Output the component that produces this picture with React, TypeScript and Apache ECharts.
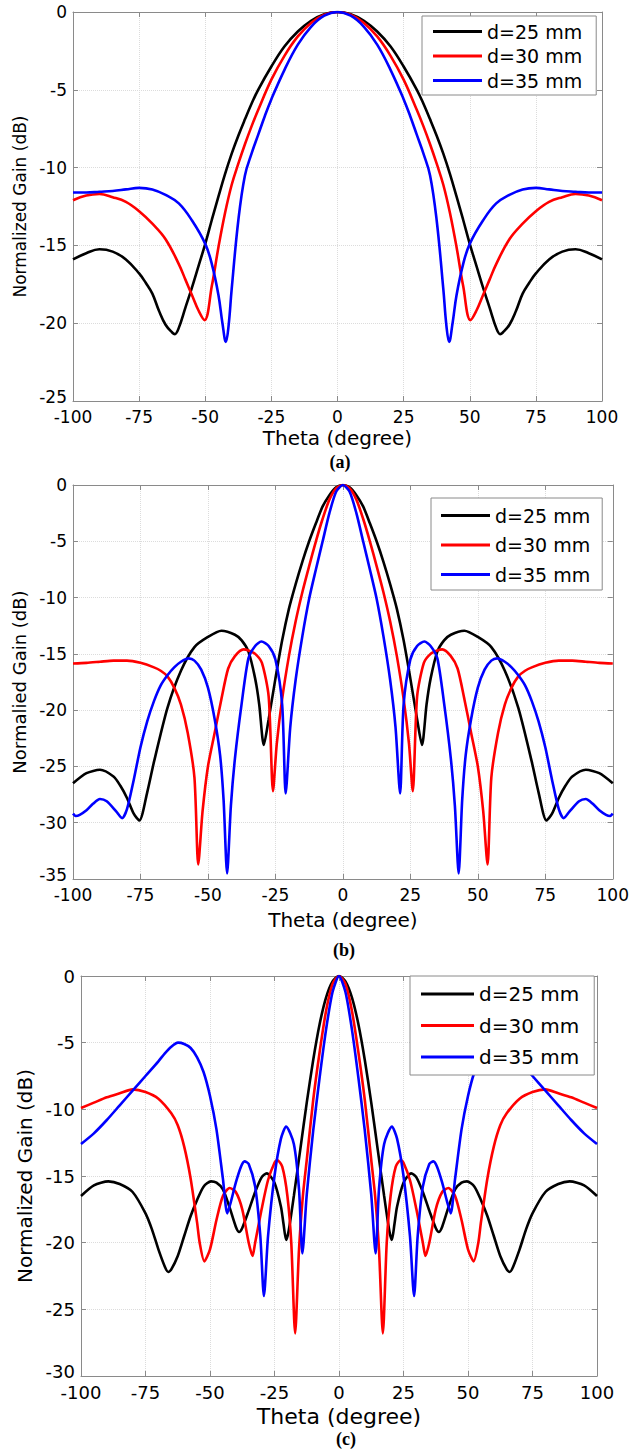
import React, { useEffect, useRef } from "react";
import * as echarts from "echarts";

type Pt = [number, number];

const seriesNames = ["d=25 mm", "d=30 mm", "d=35 mm"];
const lineColors = ["#000000", "#ff0000", "#0000ff"];
const panelCaptions = ["(a)", "(b)", "(c)"];
const yTitles = ["Normalized Gain (dB)", "Normalied Gain (dB)", "Normalized Gain (dB)"];
const xTitle = "Theta (degree)";
const yMins = [-25, -35, -30];
const yMax = 0;
const yStep = 5;
const xMin = -100;
const xMax = 100;
const xStep = 25;

// ---------- Panel (a) ----------
const gainA25: Pt[] = [
  [-100, -15.9], [-95, -15.5], [-90, -15.25], [-85, -15.4], [-80, -15.9], [-75, -16.8], [-72.5, -17.4],
  [-70, -18.1], [-67.5, -19.2], [-65, -20.1], [-62.5, -20.6], [-61.5, -20.7], [-60, -20.3], [-57.5, -19],
  [-55, -17.7], [-52.5, -16.3], [-50, -14.9], [-47.5, -13.35], [-45, -11.85], [-42.5, -10.4], [-40, -9.1],
  [-37.5, -7.95], [-35, -6.9], [-32.5, -5.9], [-30, -5], [-25, -3.5], [-20, -2.2], [-15, -1.25],
  [-10, -0.56], [-5, -0.14], [0, 0], [5, -0.14], [10, -0.56], [15, -1.25], [20, -2.2], [25, -3.5],
  [30, -5], [32.5, -5.9], [35, -6.9], [37.5, -7.95], [40, -9.1], [42.5, -10.4], [45, -11.85],
  [47.5, -13.35], [50, -14.9], [52.5, -16.3], [55, -17.7], [57.5, -19], [60, -20.3], [61.5, -20.7],
  [62.5, -20.6], [65, -20.1], [67.5, -19.2], [70, -18.1], [72.5, -17.4], [75, -16.8], [80, -15.9],
  [85, -15.4], [90, -15.25], [95, -15.5], [100, -15.9],
];
const gainA30: Pt[] = [
  [-100, -12.1], [-95, -11.8], [-90, -11.7], [-85, -11.9], [-80, -12.2], [-75, -12.8], [-70, -13.6],
  [-65, -14.6], [-60, -16.2], [-57.5, -17.2], [-55, -18.2], [-52.5, -19.2], [-50.3, -19.8], [-47.5, -17.6],
  [-45, -15.1], [-42.5, -12.9], [-40, -11.1], [-37.5, -9.75], [-35, -8.5], [-32.5, -7.35], [-30, -6.3],
  [-25, -4.35], [-20, -2.8], [-15, -1.57], [-10, -0.7], [-5, -0.17], [0, 0], [5, -0.17], [10, -0.7],
  [15, -1.57], [20, -2.8], [25, -4.35], [30, -6.3], [32.5, -7.35], [35, -8.5], [37.5, -9.75], [40, -11.1],
  [42.5, -12.9], [45, -15.1], [47.5, -17.6], [50.3, -19.8], [52.5, -19.2], [55, -18.2], [57.5, -17.2],
  [60, -16.2], [65, -14.6], [70, -13.6], [75, -12.8], [80, -12.2], [85, -11.9], [90, -11.7], [95, -11.8],
  [100, -12.1],
];
const gainA35: Pt[] = [
  [-100, -11.6], [-95, -11.6], [-90, -11.55], [-85, -11.5], [-80, -11.4], [-75, -11.3], [-70, -11.4],
  [-65, -11.75], [-60, -12.3], [-55, -13.4], [-50, -14.9], [-47.5, -16.2], [-45, -18.2], [-43.5, -20],
  [-42.2, -21.2], [-41.2, -20.2], [-40, -17.8], [-37.5, -13.4], [-35, -10.5], [-32.5, -9.1], [-30, -7.9],
  [-27.5, -6.7], [-25, -5.6], [-20, -3.7], [-15, -2.1], [-10, -0.95], [-5, -0.24], [0, 0], [5, -0.24],
  [10, -0.95], [15, -2.1], [20, -3.7], [25, -5.6], [27.5, -6.7], [30, -7.9], [32.5, -9.1], [35, -10.5],
  [37.5, -13.4], [40, -17.8], [41.2, -20.2], [42.2, -21.2], [43.5, -20], [45, -18.2], [47.5, -16.2],
  [50, -14.9], [55, -13.4], [60, -12.3], [65, -11.75], [70, -11.4], [75, -11.3], [80, -11.4], [85, -11.5],
  [90, -11.55], [95, -11.6], [100, -11.6],
];

// ---------- Panel (b) ----------
const gainB25: Pt[] = [
  [-100, -26.5], [-95, -25.6], [-90, -25.3], [-85, -25.9], [-82.5, -26.7], [-80, -27.8], [-77.5, -29.2],
  [-75.4, -29.8], [-72.5, -27.3], [-70, -24.6], [-65, -19.8], [-60, -16.5], [-55, -14.4], [-50, -13.5],
  [-45, -12.95], [-40, -13.3], [-37.5, -13.8], [-35, -14.8], [-32.5, -17.2], [-31, -19.5], [-29.3, -23.1],
  [-27.5, -20.8], [-25, -17.2], [-22.5, -13.8], [-20, -11], [-17.5, -8.8], [-15, -6.8], [-12.5, -5],
  [-10, -3.4], [-7.5, -1.9], [-5, -0.9], [-2.5, -0.2], [0, 0], [2.5, -0.2], [5, -0.9], [7.5, -1.9],
  [10, -3.4], [12.5, -5], [15, -6.8], [17.5, -8.8], [20, -11], [22.5, -13.8], [25, -17.2], [27.5, -20.8],
  [29.3, -23.1], [31, -19.5], [32.5, -17.2], [35, -14.8], [37.5, -13.8], [40, -13.3], [45, -12.95],
  [50, -13.5], [55, -14.4], [60, -16.5], [65, -19.8], [70, -24.6], [72.5, -27.3], [75.4, -29.8],
  [77.5, -29.2], [80, -27.8], [82.5, -26.7], [85, -25.9], [90, -25.3], [95, -25.6], [100, -26.5],
];
const gainB30: Pt[] = [
  [-100, -15.85], [-95, -15.8], [-90, -15.7], [-85, -15.6], [-80, -15.6], [-75, -15.8], [-70, -16.2],
  [-67.5, -16.5], [-65, -17], [-62.5, -18], [-60, -19.5], [-57.5, -22], [-55, -26], [-53.6, -33.7],
  [-52, -29], [-50, -25], [-47.5, -22], [-45, -19], [-42.5, -16.3], [-40, -15.2], [-36.8, -14.6],
  [-35, -14.7], [-32.5, -15], [-30, -15.8], [-27.5, -18.8], [-25.9, -27.2], [-24.5, -23], [-22.5, -19],
  [-20, -15.2], [-17.5, -12.1], [-15, -9.5], [-12.5, -7.2], [-10, -5], [-7.5, -3], [-5, -1.3],
  [-2.5, -0.3], [0, 0], [2.5, -0.3], [5, -1.3], [7.5, -3], [10, -5], [12.5, -7.2], [15, -9.5],
  [17.5, -12.1], [20, -15.2], [22.5, -19], [24.5, -23], [25.9, -27.2], [27.5, -18.8], [30, -15.8],
  [32.5, -15], [35, -14.7], [36.8, -14.6], [40, -15.2], [42.5, -16.3], [45, -19], [47.5, -22], [50, -25],
  [52, -29], [53.6, -33.7], [55, -26], [57.5, -22], [60, -19.5], [62.5, -18], [65, -17], [67.5, -16.5],
  [70, -16.2], [75, -15.8], [80, -15.6], [85, -15.6], [90, -15.7], [95, -15.8], [100, -15.85],
];
const gainB35: Pt[] = [
  [-100, -29.2], [-99, -29.4], [-97.5, -29.3], [-95, -28.9], [-92.5, -28.3], [-90, -27.9], [-87.5, -28.1],
  [-84, -29], [-81.8, -29.6], [-80, -28.8], [-77.5, -26.2], [-75, -23.3], [-72.5, -21], [-70, -19.2],
  [-67.5, -17.8], [-65, -16.9], [-62.5, -16.2], [-60, -15.7], [-57.2, -15.4], [-55, -15.6], [-52.5, -16.4],
  [-50, -18], [-47.5, -20.8], [-45.5, -24], [-44.2, -28], [-42.9, -34.5], [-41.5, -28.5], [-40, -24.3],
  [-37.5, -19.4], [-35, -15.4], [-32.5, -14.3], [-30.2, -13.9], [-27.5, -14.3], [-25, -15.5],
  [-22.5, -19.5], [-21.2, -27.4], [-19.5, -21.5], [-17.5, -17.3], [-15, -13.4], [-12.5, -10.1],
  [-10, -7.5], [-7.5, -5], [-5, -2.5], [-2.5, -0.6], [0, 0], [2.5, -0.6], [5, -2.5], [7.5, -5],
  [10, -7.5], [12.5, -10.1], [15, -13.4], [17.5, -17.3], [19.5, -21.5], [21.2, -27.4], [22.5, -19.5],
  [25, -15.5], [27.5, -14.3], [30.2, -13.9], [32.5, -14.3], [35, -15.4], [37.5, -19.4], [40, -24.3],
  [41.5, -28.5], [42.9, -34.5], [44.2, -28], [45.5, -24], [47.5, -20.8], [50, -18], [52.5, -16.4],
  [55, -15.6], [57.2, -15.4], [60, -15.7], [62.5, -16.2], [65, -16.9], [67.5, -17.8], [70, -19.2],
  [72.5, -21], [75, -23.3], [77.5, -26.2], [80, -28.8], [81.8, -29.6], [84, -29], [87.5, -28.1],
  [90, -27.9], [92.5, -28.3], [95, -28.9], [97.5, -29.3], [99, -29.4], [100, -29.2],
];

// ---------- Panel (c) ----------
const gainC25: Pt[] = [
  [-100, -16.5], [-95, -15.7], [-89.4, -15.4], [-85, -15.6], [-80, -16.2], [-75, -17.8], [-72.5, -19],
  [-70, -20.5], [-67.5, -21.8], [-66.2, -22.2], [-65, -22], [-62.5, -21], [-60, -19.5], [-57.5, -18],
  [-55, -16.8], [-52.5, -15.8], [-49.6, -15.4], [-47.5, -15.5], [-45, -16], [-42.5, -17.3], [-40, -18.8],
  [-38.7, -19.2], [-37.5, -18.9], [-35, -17.6], [-32.5, -16.2], [-30, -15.1], [-28, -14.8], [-25, -15.5],
  [-22.5, -17.3], [-21.5, -18.6], [-20.5, -19.8], [-19.5, -19.1], [-17.5, -16.5], [-15, -13], [-12.5, -9.5],
  [-10, -6.3], [-7.5, -3.6], [-5, -1.6], [-2.5, -0.4], [0, 0], [2.5, -0.4], [5, -1.6], [7.5, -3.6],
  [10, -6.3], [12.5, -9.5], [15, -13], [17.5, -16.5], [19.5, -19.1], [20.5, -19.8], [21.5, -18.6],
  [22.5, -17.3], [25, -15.5], [28, -14.8], [30, -15.1], [32.5, -16.2], [35, -17.6], [37.5, -18.9],
  [38.7, -19.2], [40, -18.8], [42.5, -17.3], [45, -16], [47.5, -15.5], [49.6, -15.4], [52.5, -15.8],
  [55, -16.8], [57.5, -18], [60, -19.5], [62.5, -21], [65, -22], [66.2, -22.2], [67.5, -21.8], [70, -20.5],
  [72.5, -19], [75, -17.8], [80, -16.2], [85, -15.6], [89.4, -15.4], [95, -15.7], [100, -16.5],
];
const gainC30: Pt[] = [
  [-100, -9.9], [-95, -9.5], [-90, -9.1], [-85, -8.8], [-80, -8.5], [-75, -8.7], [-70, -9.2],
  [-65, -10.3], [-62.5, -11.2], [-60, -12.8], [-57.5, -15.2], [-55, -18.5], [-54, -20], [-52.2, -21.4],
  [-50, -20.5], [-47.5, -18.3], [-45, -16.5], [-42.4, -15.9], [-40, -16.2], [-37.5, -17.5], [-35, -20],
  [-33.5, -21], [-32.5, -20], [-30, -17.5], [-27.5, -15.3], [-25, -14], [-24, -13.8], [-22, -14.3],
  [-20, -16.5], [-18.5, -20], [-17, -26.8], [-15.5, -20.5], [-14, -16.5], [-12.5, -13.8], [-10, -9.3],
  [-7.5, -5.7], [-5, -2.6], [-2.5, -0.6], [0, 0], [2.5, -0.6], [5, -2.6], [7.5, -5.7], [10, -9.3],
  [12.5, -13.8], [14, -16.5], [15.5, -20.5], [17, -26.8], [18.5, -20], [20, -16.5], [22, -14.3],
  [24, -13.8], [25, -14], [27.5, -15.3], [30, -17.5], [32.5, -20], [33.5, -21], [35, -20], [37.5, -17.5],
  [40, -16.2], [42.4, -15.9], [45, -16.5], [47.5, -18.3], [50, -20.5], [52.2, -21.4], [54, -20],
  [55, -18.5], [57.5, -15.2], [60, -12.8], [62.5, -11.2], [65, -10.3], [70, -9.2], [75, -8.7],
  [80, -8.5], [85, -8.8], [90, -9.1], [95, -9.5], [100, -9.9],
];
const gainC35: Pt[] = [
  [-100, -12.6], [-95, -11.8], [-90, -10.8], [-85, -9.7], [-80, -8.6], [-75, -7.5], [-70, -6.4],
  [-67.5, -5.8], [-65, -5.3], [-62.4, -5], [-60, -5.1], [-57.5, -5.4], [-55, -6.1], [-52.5, -7.2],
  [-50, -9], [-47.5, -11.5], [-45, -15.2], [-43.3, -17.8], [-42, -17], [-40, -15.5], [-38, -14.3],
  [-36.6, -13.9], [-35, -14.1], [-32.5, -15.8], [-30.5, -19.5], [-29.1, -24], [-27.5, -19.5], [-25, -15],
  [-22.5, -12.2], [-20.5, -11.3], [-17.5, -12.6], [-15.5, -16], [-14.2, -20.8], [-12.5, -16.4],
  [-10, -11.6], [-7.5, -7.6], [-5, -4], [-2.5, -1.2], [0, 0], [2.5, -1.2], [5, -4], [7.5, -7.6],
  [10, -11.6], [12.5, -16.4], [14.2, -20.8], [15.5, -16], [17.5, -12.6], [20.5, -11.3],
  [22.5, -12.2], [25, -15], [27.5, -19.5], [29.1, -24], [30.5, -19.5], [32.5, -15.8], [35, -14.1],
  [36.6, -13.9], [38, -14.3], [40, -15.5], [42, -17], [43.3, -17.8], [45, -15.2], [47.5, -11.5], [50, -9],
  [52.5, -7.2], [55, -6.1], [57.5, -5.4], [60, -5.1], [62.4, -5], [65, -5.3], [67.5, -5.8], [70, -6.4],
  [75, -7.5], [80, -8.6], [85, -9.7], [90, -10.8], [95, -11.8], [100, -12.6],
];

const panelData: Pt[][][] = [
  [gainA25, gainA30, gainA35],
  [gainB25, gainB30, gainB35],
  [gainC25, gainC30, gainC35],
];

// ---------- layout / style (not data) ----------
const W = 632;
const H = 1450;
const FONT = "DejaVu Sans";
const AXIS_GRAY = "#8a8a8a";
const grids = [
  { left: 73, top: 12, width: 529, height: 389 },
  { left: 73, top: 485, width: 541, height: 394 },
  { left: 81, top: 976, width: 516, height: 400 },
];
const tickFont = [17, 17, 18];
const xNameFont = [20, 20, 22];
const yNameFont = [17, 18, 20];
const xNameGap = [27, 31, 29];
const yNameGap = [44, 44, 46];
const legendBoxes = [
  { left: 422, top: 16, padding: [6, 14, 5, 11], gap: 5.5, itemWidth: 49, font: 19 },
  { left: 431, top: 498, padding: [8, 12, 6, 10], gap: 10.5, itemWidth: 49, font: 19 },
  { left: 410, top: 976, padding: [8, 15, 8, 11], gap: 11.5, itemWidth: 53, font: 20 },
];
const captionPos: [number, number][] = [[340, 462], [344, 950], [346, 1439]];
const smoothness = [0.4, 0.25, 0.25];

function buildOption() {
  const xAxes: any[] = [];
  const yAxes: any[] = [];
  const series: any[] = [];
  const legends: any[] = [];
  const graphics: any[] = [];

  for (let i = 0; i < 3; i++) {
    const yMin = yMins[i];
    const fs = tickFont[i];
    xAxes.push({
      type: "value",
      gridIndex: i,
      position: "bottom",
      min: xMin,
      max: xMax,
      interval: xStep,
      name: xTitle,
      nameLocation: "middle",
      nameGap: xNameGap[i],
      nameTextStyle: { fontFamily: FONT, fontSize: xNameFont[i], color: "#000" },
      axisLine: { show: true, onZero: false, lineStyle: { color: AXIS_GRAY, width: 1 } },
      axisTick: { show: true, inside: true, length: 5, lineStyle: { color: AXIS_GRAY } },
      axisLabel: { fontFamily: FONT, fontSize: fs, color: "#000", margin: 7 },
      splitLine: { show: true, lineStyle: { color: "#dcdcdc", type: "dotted", width: 1 } },
    });
    yAxes.push({
      type: "value",
      gridIndex: i,
      position: "left",
      min: yMin,
      max: yMax,
      interval: yStep,
      name: yTitles[i],
      nameLocation: "middle",
      nameGap: yNameGap[i],
      nameTextStyle: { fontFamily: FONT, fontSize: yNameFont[i], color: "#000" },
      axisLine: { show: true, onZero: false, lineStyle: { color: AXIS_GRAY, width: 1 } },
      axisTick: { show: true, inside: true, length: 5, lineStyle: { color: AXIS_GRAY } },
      axisLabel: {
        fontFamily: FONT,
        fontSize: fs,
        color: "#000",
        margin: 6,
        formatter: (v: number) => (v === yMin ? `{low|${v}}` : `${v}`),
        rich: {
          low: { fontFamily: FONT, fontSize: fs, color: "#000", padding: [0, 0, 9, 0] },
        },
      },
      splitLine: { show: true, lineStyle: { color: "#dcdcdc", type: "dotted", width: 1 } },
    });
  }
  for (let i = 0; i < 3; i++) {
    xAxes.push({
      type: "value",
      gridIndex: i,
      position: "top",
      min: xMin,
      max: xMax,
      interval: xStep,
      axisLine: { show: true, onZero: false, lineStyle: { color: AXIS_GRAY, width: 1 } },
      axisTick: { show: true, inside: true, length: 5, lineStyle: { color: AXIS_GRAY } },
      axisLabel: { show: false },
      splitLine: { show: false },
    });
    yAxes.push({
      type: "value",
      gridIndex: i,
      position: "right",
      min: yMins[i],
      max: yMax,
      interval: yStep,
      axisLine: { show: true, onZero: false, lineStyle: { color: AXIS_GRAY, width: 1 } },
      axisTick: { show: true, inside: true, length: 5, lineStyle: { color: AXIS_GRAY } },
      axisLabel: { show: false },
      splitLine: { show: false },
    });
  }

  for (let i = 0; i < 3; i++) {
    for (let k = 0; k < 3; k++) {
      series.push({
        type: "line",
        name: seriesNames[k],
        xAxisIndex: i,
        yAxisIndex: i,
        data: panelData[i][k],
        symbol: "none",
        showSymbol: false,
        smooth: smoothness[i],
        clip: true,
        z: 2 + k,
        lineStyle: { color: lineColors[k], width: 2.6 },
        itemStyle: { color: lineColors[k] },
        emphasis: { disabled: true },
      });
    }
    const lb = legendBoxes[i];
    legends.push({
      show: true,
      orient: "vertical",
      left: lb.left,
      top: lb.top,
      padding: lb.padding,
      itemGap: lb.gap,
      itemWidth: lb.itemWidth,
      itemHeight: 3,
      icon: "rect",
      data: seriesNames,
      selectedMode: false,
      backgroundColor: "#ffffff",
      borderColor: "#8a8a8a",
      borderWidth: 1,
      borderRadius: 0,
      z: 10,
      textStyle: { fontFamily: FONT, fontSize: lb.font, color: "#000" },
    });
    graphics.push({
      type: "text",
      x: captionPos[i][0],
      y: captionPos[i][1],
      z: 10,
      style: {
        text: panelCaptions[i],
        fill: "#000",
        font: 'bold 18px "Liberation Serif"',
        fontFamily: "Liberation Serif",
        fontWeight: "bold",
        fontSize: 18,
        textAlign: "center",
        textVerticalAlign: "middle",
        align: "center",
        verticalAlign: "middle",
      },
    });
  }

  return {
    animation: false,
    backgroundColor: "#ffffff",
    grid: grids.map((g) => ({ ...g, containLabel: false })),
    xAxis: xAxes,
    yAxis: yAxes,
    legend: legends,
    series,
    graphic: graphics,
  };
}

export default function App() {
  const ref = useRef<HTMLDivElement>(null);
  useEffect(() => {
    document.body.style.margin = "0";
    if (!ref.current) return;
    const chart = echarts.init(ref.current, undefined, { renderer: "svg" });
    chart.setOption(buildOption() as any);
    return () => {
      chart.dispose();
    };
  }, []);
  return <div ref={ref} style={{ width: W, height: H, background: "#fff" }} />;
}
